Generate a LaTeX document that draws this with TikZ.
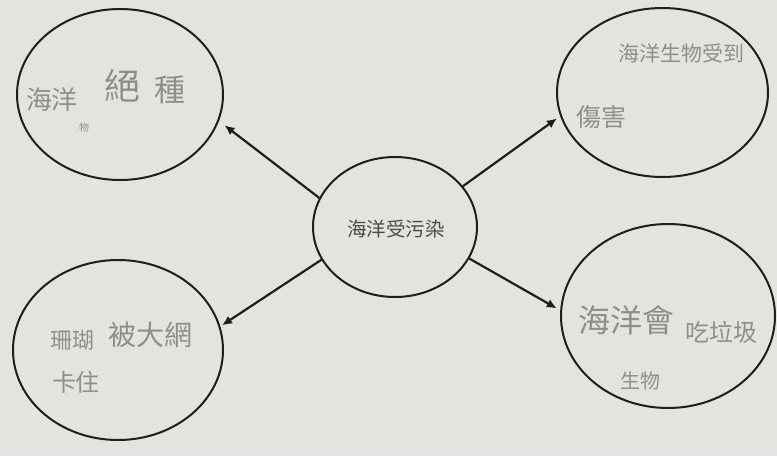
\documentclass[tikz,border=0pt]{standalone}
\usepackage{fontspec}
\newfontfamily\cjk{Noto Sans CJK TC}
\usetikzlibrary{shapes.geometric,arrows.meta}
\definecolor{paper}{HTML}{E3E3DF}
\definecolor{ink}{HTML}{1E1E1E}
\definecolor{pencil}{HTML}{8E8E8C}
\definecolor{printed}{HTML}{4A4A4A}
\tikzset{
  bubble/.style={ellipse, draw=ink, line width=2pt, inner sep=0pt},
  hand/.style={text=pencil, inner sep=0pt, font=\cjk},
  link/.style={draw=ink, line width=2.2pt, -{Latex[length=10pt,width=9pt]}},
}
\newcommand{\fs}[1]{\fontsize{#1}{#1}\selectfont}
\begin{document}
\begin{tikzpicture}[x=1pt,y=-1pt]
\fill[paper] (0,0) rectangle (777,456);
\useasboundingbox (0,0) rectangle (777,456);
% ellipses
\node[bubble, minimum width=164pt, minimum height=140pt] (c) at (395,227) {};
\node[bubble, minimum width=206pt, minimum height=171pt] (tl) at (120,94.5) {};
\node[bubble, minimum width=211pt, minimum height=169pt] (tr) at (662.5,92.5) {};
\node[bubble, minimum width=210pt, minimum height=180pt] (bl) at (118,350) {};
\node[bubble, minimum width=214pt, minimum height=184pt] (br) at (668,316) {};
% center text
\node[text=printed, inner sep=0pt, font=\cjk\fs{19.5pt}] (ct) at (396,229) {海洋受污染};
% arrows
\draw[link, shorten >=7pt] (c.159) -- (tl.-15);
\draw[link, shorten >=4pt] (c.31) -- (tr.193.5);
\draw[link, shorten >=2pt] (c.204) -- (bl.13.8);
\draw[link, shorten >=4pt] (c.-23) -- (br.177);
% handwriting top-left
\node[hand, font=\cjk\fs{26pt}] (t1) at (52,100) {海洋};
\node[hand, font=\cjk\fs{10pt}] (t2) at (84,128) {物};
\node[hand, font=\cjk\fs{36pt}] (t3) at (122,86) {絕};
\node[hand, font=\cjk\fs{31pt}] (t4) at (170,90) {種};
% top-right
\node[hand, font=\cjk\fs{21pt}] (r1) at (681,53) {海洋生物受到};
\node[hand, font=\cjk\fs{25pt}] (r2) at (601,117) {傷害};
% bottom-left
\node[hand, font=\cjk\fs{22pt}] (b1) at (72,340) {珊瑚};
\node[hand, font=\cjk\fs{28pt}] (b2) at (150,335) {被大網};
\node[hand, font=\cjk\fs{24pt}] (b3) at (76,382) {卡住};
% bottom-right
\node[hand, font=\cjk\fs{32pt}] (d1) at (626,320) {海洋會};
\node[hand, font=\cjk\fs{24pt}] (d2) at (721,332) {吃垃圾};
\node[hand, font=\cjk\fs{20pt}] (d3) at (640,381) {生物};
\end{tikzpicture}
\end{document}
